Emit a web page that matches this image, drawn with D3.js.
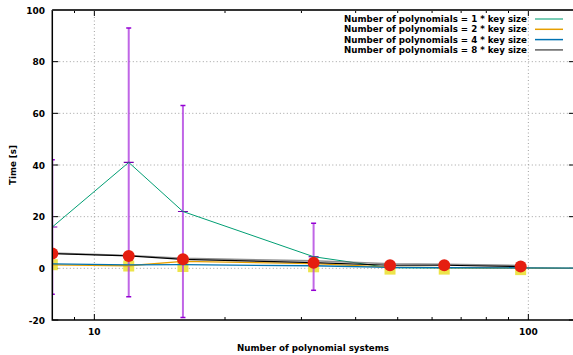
<!DOCTYPE html>
<html>
<head>
<meta charset="utf-8">
<script src="https://cdn.jsdelivr.net/npm/d3@7"></script>
<style>
  html, body { margin: 0; padding: 0; background: #fff; }
  svg { display: block; font-family: "DejaVu Sans", sans-serif; }
</style>
</head>
<body>
<svg id="chart" width="573" height="355"></svg>
<script>
// Number of polynomial systems (x)
const systems = [8, 12, 16, 32, 48, 64, 96, 128];

// Time [s] per series
const keySize1 = [16, 41, 22, 4.5, 0.2, 0.1, 0.1, 0];
const keySize2 = [1.3, 1.0, 2.7, 1.8, 0.5, 0.3, 0.2, 0];
const keySize4 = [1.7, 1.3, 1.4, 1.0, 0.4, 0.3, 0.2, 0.1];
const keySize8 = [5.9, 5.0, 3.9, 2.9, 1.8, 1.6, 1.1, null];

// error bars on the first series (half-width)
const keySize1Err = [26, 52, 41, 13, null, null, null, null];

// extra markers
const squareValues = [1.4, 0.9, 0.7, 0.6, -0.3, -0.3, -0.5, null];
const circleValues = [5.7, 4.8, 3.5, 2.2, 1.2, 1.2, 0.7, null];

const legendLabels = [
  "Number of polynomials = 1 * key size",
  "Number of polynomials = 2 * key size",
  "Number of polynomials = 4 * key size",
  "Number of polynomials = 8 * key size",
];
const yTicks = [-20, 0, 20, 40, 60, 80, 100];
const xTicks = [10, 100];

const plotLeft = 52.3, plotTop = 10, plotBottom = 320;
const decade = 434;
const plotRight = plotLeft + Math.log10(128 / 8) * decade;

const x = d3.scaleLog().domain([8, 128]).range([plotLeft, plotRight]);
const y = d3.scaleLinear().domain([-20, 100]).range([plotBottom, plotTop]);

const svg = d3.select("#chart");

svg.append("defs").append("clipPath").attr("id", "plot-clip")
  .append("rect")
  .attr("x", plotLeft).attr("y", plotTop)
  .attr("width", plotRight - plotLeft).attr("height", plotBottom - plotTop);

// Grid
const grid = svg.append("g");
yTicks.filter((t) => t > -20 && t < 100).forEach((t) => {
  grid.append("line")
    .attr("x1", plotLeft).attr("x2", plotRight)
    .attr("y1", y(t)).attr("y2", y(t))
    .attr("stroke", "#a0a0a0").attr("stroke-width", 1)
    .attr("stroke-dasharray", "1,2.5");
});
xTicks.forEach((t) => {
  grid.append("line")
    .attr("x1", x(t)).attr("x2", x(t))
    .attr("y1", plotTop).attr("y2", plotBottom)
    .attr("stroke", "#a0a0a0").attr("stroke-width", 1)
    .attr("stroke-dasharray", "1,2.5");
});

// Minor / major ticks, drawn inward and mirrored on top
const ticks = svg.append("g").attr("stroke", "#000");
const minorX = [9, 20, 30, 40, 50, 60, 70, 80, 90];
minorX.forEach((t) => {
  ticks.append("line").attr("x1", x(t)).attr("x2", x(t)).attr("y1", plotBottom).attr("y2", plotBottom - 3);
  ticks.append("line").attr("x1", x(t)).attr("x2", x(t)).attr("y1", plotTop).attr("y2", plotTop + 3);
});
xTicks.forEach((t) => {
  ticks.append("line").attr("x1", x(t)).attr("x2", x(t)).attr("y1", plotBottom).attr("y2", plotBottom - 6);
  ticks.append("line").attr("x1", x(t)).attr("x2", x(t)).attr("y1", plotTop).attr("y2", plotTop + 6);
});
yTicks.forEach((t) => {
  ticks.append("line").attr("x1", plotLeft).attr("x2", plotLeft + 6).attr("y1", y(t)).attr("y2", y(t));
  ticks.append("line").attr("x1", plotRight).attr("x2", plotRight - 6).attr("y1", y(t)).attr("y2", y(t));
});

const plot = svg.append("g").attr("clip-path", "url(#plot-clip)");
const pts = (vals) => systems.map((s, i) => ({ s, v: vals[i] })).filter((d) => d.v != null);

// Yellow squares
plot.append("g").selectAll("rect")
  .data(pts(squareValues))
  .join("rect")
  .attr("x", (d) => x(d.s) - 5.5)
  .attr("y", (d) => y(d.v) - 5.5)
  .attr("width", 11).attr("height", 11)
  .attr("fill", "#ede44a");

// Error bars
const errData = systems.map((s, i) => ({ s, v: keySize1[i], e: keySize1Err[i] })).filter((d) => d.e != null);
const eb = plot.append("g");
eb.selectAll("line.bar").data(errData).join("line")
  .attr("class", "bar")
  .attr("x1", (d) => x(d.s)).attr("x2", (d) => x(d.s))
  .attr("y1", (d) => y(d.v + d.e)).attr("y2", (d) => y(d.v - d.e))
  .attr("stroke", "#b040e0").attr("stroke-opacity", 0.8).attr("stroke-width", 2);
eb.selectAll("line.capt").data(errData).join("line")
  .attr("class", "capt")
  .attr("x1", (d) => x(d.s) - 2.5).attr("x2", (d) => x(d.s) + 2.5)
  .attr("y1", (d) => y(d.v + d.e)).attr("y2", (d) => y(d.v + d.e))
  .attr("stroke", "#9400d3").attr("stroke-width", 1.5);
eb.selectAll("line.capb").data(errData).join("line")
  .attr("class", "capb")
  .attr("x1", (d) => x(d.s) - 2.5).attr("x2", (d) => x(d.s) + 2.5)
  .attr("y1", (d) => y(d.v - d.e)).attr("y2", (d) => y(d.v - d.e))
  .attr("stroke", "#9400d3").attr("stroke-width", 1.5);
eb.selectAll("line.mid").data(errData).join("line")
  .attr("class", "mid")
  .attr("x1", (d) => x(d.s) - 5).attr("x2", (d) => x(d.s) + 5)
  .attr("y1", (d) => y(d.v)).attr("y2", (d) => y(d.v))
  .attr("stroke", "#7a00b0").attr("stroke-width", 1.2);

// Series lines
const line = d3.line().x((d) => x(d.s)).y((d) => y(d.v));
const series = [
  { vals: keySize1, color: "#009e73", width: 1, opacity: 1 },
  { vals: keySize2, color: "#e69f00", width: 1.3, opacity: 1 },
  { vals: keySize4, color: "#0072b2", width: 1.3, opacity: 1 },
  { vals: keySize8, color: "#606060", width: 1.5, opacity: 0.7 },
];
series.forEach((sr) => {
  plot.append("path")
    .datum(pts(sr.vals))
    .attr("d", line)
    .attr("fill", "none")
    .attr("stroke", sr.color)
    .attr("stroke-width", sr.width)
    .attr("stroke-opacity", sr.opacity);
});

// Black line through the red circles
plot.append("path")
  .datum(pts(circleValues))
  .attr("d", line)
  .attr("fill", "none")
  .attr("stroke", "#000")
  .attr("stroke-width", 1.2);

plot.append("g").selectAll("circle")
  .data(pts(circleValues))
  .join("circle")
  .attr("cx", (d) => x(d.s))
  .attr("cy", (d) => y(d.v))
  .attr("r", 6)
  .attr("fill", "#e51e10");

// Border (left, bottom, top)
svg.append("path")
  .attr("d", `M${plotLeft},${plotTop}V${plotBottom}H${plotRight}`)
  .attr("fill", "none").attr("stroke", "#000").attr("stroke-width", 1.5);
svg.append("line")
  .attr("x1", plotLeft).attr("x2", plotRight).attr("y1", plotTop).attr("y2", plotTop)
  .attr("stroke", "#333").attr("stroke-width", 2);

// Tick labels
yTicks.forEach((t) => {
  svg.append("text")
    .attr("x", 45).attr("y", y(t) + 3.5)
    .attr("text-anchor", "end")
    .attr("font-size", 9).attr("font-weight", "bold")
    .text(t);
});
xTicks.forEach((t) => {
  svg.append("text")
    .attr("x", x(t)).attr("y", 335)
    .attr("text-anchor", "middle")
    .attr("font-size", 9).attr("font-weight", "bold")
    .text(t);
});

svg.append("text")
  .attr("x", 313).attr("y", 351)
  .attr("text-anchor", "middle")
  .attr("font-size", 8.7).attr("font-weight", "bold")
  .text("Number of polynomial systems");

svg.append("text")
  .attr("transform", "translate(16,165) rotate(-90)")
  .attr("text-anchor", "middle")
  .attr("font-size", 8.7).attr("font-weight", "bold")
  .text("Time [s]");

// Legend
const legend = svg.append("g");
legendLabels.forEach((lbl, i) => {
  const ly = 19 + i * 10.3;
  legend.append("text")
    .attr("x", 527).attr("y", ly + 3)
    .attr("text-anchor", "end")
    .attr("font-size", 8.7).attr("font-weight", "bold")
    .text(lbl);
  legend.append("line")
    .attr("x1", 535).attr("x2", 563)
    .attr("y1", ly).attr("y2", ly)
    .attr("stroke", series[i].color)
    .attr("stroke-width", 1.5)
    .attr("stroke-opacity", i === 0 ? 0.7 : 1);
});
</script>
</body>
</html>
